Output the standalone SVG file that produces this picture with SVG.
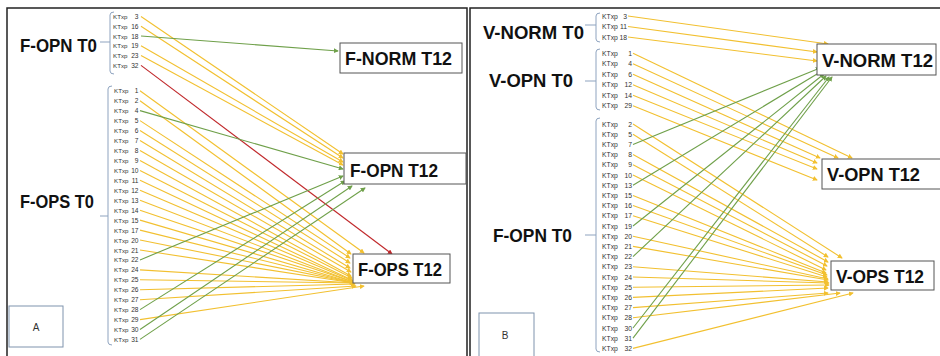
<svg xmlns="http://www.w3.org/2000/svg" width="940" height="356" viewBox="0 0 940 356">
<defs>
<style>
.big{font-family:"Liberation Sans",Arial,sans-serif;font-weight:bold;font-size:19px;fill:#111}
.kt{font-family:"Liberation Sans",Arial,sans-serif;font-size:6.8px;fill:#333}
.kn{font-family:"Liberation Sans",Arial,sans-serif;font-size:6.8px;fill:#333;text-anchor:end}
.ka{font-family:"Liberation Sans",Arial,sans-serif;font-size:6.2px;fill:#333}
.kan{font-family:"Liberation Sans",Arial,sans-serif;font-size:6.6px;fill:#333;text-anchor:end}
.br{fill:none;stroke:#8ea3bf;stroke-width:1}
.box{fill:#fff;stroke:#555;stroke-width:1}
.panel{fill:none;stroke:#222;stroke-width:1.5}
.y{stroke:#f2c030;stroke-width:1.1;fill:none;marker-end:url(#ay)}
.g{stroke:#6fa04a;stroke-width:1.1;fill:none;marker-end:url(#ag)}
.r{stroke:#c0282b;stroke-width:1.1;fill:none;marker-end:url(#ar)}
</style>
<marker id="ay" viewBox="0 0 6 6" refX="5" refY="3" markerWidth="5" markerHeight="5" markerUnits="userSpaceOnUse" orient="auto"><path d="M0,0 L6,3 L0,6 z" fill="#f2c030"/></marker>
<marker id="ag" viewBox="0 0 6 6" refX="5" refY="3" markerWidth="5" markerHeight="5" markerUnits="userSpaceOnUse" orient="auto"><path d="M0,0 L6,3 L0,6 z" fill="#6fa04a"/></marker>
<marker id="ar" viewBox="0 0 6 6" refX="5" refY="3" markerWidth="5" markerHeight="5" markerUnits="userSpaceOnUse" orient="auto"><path d="M0,0 L6,3 L0,6 z" fill="#c0282b"/></marker>
</defs>
<rect width="940" height="356" fill="#fff"/>
<!-- panels -->
<path class="panel" d="M7,358 V8 H467 V358"/>
<path class="panel" d="M470,358 V8 H942"/>

<!-- connectors -->
<g id="connectors">
<!-- Panel A: F-OPN T0 -->
<line class="y" x1="141" y1="16.5" x2="343" y2="154"/>
<line class="y" x1="141" y1="26.3" x2="343" y2="158"/>
<line class="g" x1="141" y1="36" x2="338" y2="51"/>
<line class="y" x1="141" y1="45.8" x2="343" y2="162"/>
<line class="y" x1="141" y1="55.6" x2="343" y2="165"/>
<line class="r" x1="141" y1="65.4" x2="392" y2="254"/>
<!-- Panel A: F-OPS T0 -->
<line class="y" x1="140" y1="90.7" x2="364" y2="253"/>
<line class="y" x1="140" y1="100.7" x2="351" y2="254"/>
<line class="g" x1="140" y1="110.6" x2="343" y2="169"/>
<line class="y" x1="140" y1="120.6" x2="350" y2="258"/>
<line class="y" x1="140" y1="130.5" x2="350" y2="263"/>
<line class="y" x1="140" y1="140.5" x2="350" y2="268"/>
<line class="y" x1="140" y1="150.5" x2="351" y2="272"/>
<line class="y" x1="140" y1="160.4" x2="351" y2="276"/>
<line class="y" x1="140" y1="170.4" x2="352" y2="278"/>
<line class="y" x1="140" y1="180.3" x2="352" y2="280"/>
<line class="y" x1="140" y1="190.3" x2="353" y2="281"/>
<line class="y" x1="140" y1="200.2" x2="353" y2="282"/>
<line class="y" x1="140" y1="210.2" x2="353" y2="282"/>
<line class="y" x1="140" y1="220.1" x2="354" y2="283"/>
<line class="y" x1="140" y1="230.1" x2="354" y2="283"/>
<line class="y" x1="140" y1="240" x2="354" y2="283"/>
<line class="y" x1="140" y1="250" x2="354" y2="283"/>
<line class="g" x1="140" y1="259.9" x2="343" y2="176"/>
<line class="y" x1="140" y1="269.9" x2="354" y2="283"/>
<line class="y" x1="140" y1="279.8" x2="355" y2="283"/>
<line class="y" x1="140" y1="289.8" x2="355" y2="284"/>
<line class="y" x1="140" y1="299.7" x2="356" y2="286"/>
<line class="g" x1="140" y1="309.6" x2="345" y2="181"/>
<line class="y" x1="140" y1="319.6" x2="364" y2="286"/>
<line class="g" x1="140" y1="329.5" x2="352" y2="186"/>
<line class="g" x1="140" y1="339.4" x2="365" y2="188"/>
<!-- Panel B: V-NORM T0 -->
<line class="y" x1="628" y1="16" x2="828" y2="44"/>
<line class="y" x1="628" y1="26.5" x2="817" y2="52"/>
<line class="y" x1="628" y1="37" x2="817" y2="61"/>
<!-- Panel B: V-OPN T0 -->
<line class="y" x1="633" y1="53.3" x2="852" y2="158"/>
<line class="y" x1="633" y1="63.8" x2="838" y2="158"/>
<line class="y" x1="633" y1="74.3" x2="820" y2="158"/>
<line class="y" x1="633" y1="84.8" x2="817" y2="163"/>
<line class="y" x1="633" y1="95.3" x2="817" y2="169"/>
<line class="y" x1="633" y1="105.8" x2="817" y2="180"/>
<!-- Panel B: F-OPN T0 -->
<line class="y" x1="633" y1="124" x2="842" y2="258"/>
<line class="y" x1="633" y1="134.2" x2="828" y2="257"/>
<line class="g" x1="633" y1="144.4" x2="820" y2="68"/>
<line class="y" x1="633" y1="154.6" x2="828" y2="262"/>
<line class="y" x1="633" y1="164.8" x2="827" y2="266"/>
<line class="y" x1="633" y1="175" x2="826" y2="270"/>
<line class="g" x1="633" y1="185.2" x2="822" y2="71"/>
<line class="y" x1="633" y1="195.4" x2="826" y2="273"/>
<line class="y" x1="633" y1="205.6" x2="827" y2="275"/>
<line class="y" x1="633" y1="215.8" x2="827" y2="277"/>
<line class="g" x1="633" y1="226" x2="824" y2="74"/>
<line class="y" x1="633" y1="236.2" x2="828" y2="279"/>
<line class="y" x1="633" y1="246.4" x2="828" y2="280"/>
<line class="g" x1="633" y1="256.6" x2="826" y2="76"/>
<line class="y" x1="633" y1="266.8" x2="828" y2="282"/>
<line class="y" x1="633" y1="277" x2="829" y2="283"/>
<line class="y" x1="633" y1="287.2" x2="829" y2="285"/>
<line class="y" x1="633" y1="297.4" x2="828" y2="288"/>
<line class="y" x1="633" y1="307.6" x2="828" y2="293"/>
<line class="y" x1="633" y1="317.8" x2="840" y2="293"/>
<line class="g" x1="633" y1="328" x2="829" y2="77"/>
<line class="g" x1="633" y1="338.2" x2="832" y2="77"/>
<line class="y" x1="633" y1="348.4" x2="853" y2="293"/>
</g>

<!-- Panel A source nodes -->
<g id="a-fopn-t0">
<text class="big" x="20" y="52" textLength="77" lengthAdjust="spacingAndGlyphs">F-OPN T0</text>
<path class="br" d="M100,42 H110 M114,12 Q110,12 110,15 V71 Q110,74 114,74"/>
<g class="ka"><text x="113" y="19">KTxp</text><text x="113" y="28.8">KTxp</text><text x="113" y="38.5">KTxp</text><text x="113" y="48.3">KTxp</text><text x="113" y="58.1">KTxp</text><text x="113" y="67.9">KTxp</text></g>
<g class="kan"><text x="138.5" y="19">3</text><text x="138.5" y="28.8">16</text><text x="138.5" y="38.5">18</text><text x="138.5" y="48.3">19</text><text x="138.5" y="58.1">23</text><text x="138.5" y="67.9">32</text></g>
</g>
<g id="a-fops-t0">
<text class="big" x="20" y="208" textLength="74" lengthAdjust="spacingAndGlyphs">F-OPS T0</text>
<path class="br" d="M100,216 H108 M112,86 Q108,86 108,89 V342 Q108,345 112,345"/>
<g class="ka">
<text x="114" y="93.2">KTxp</text><text x="114" y="103.2">KTxp</text><text x="114" y="113.1">KTxp</text><text x="114" y="123.1">KTxp</text><text x="114" y="133">KTxp</text><text x="114" y="143">KTxp</text><text x="114" y="153">KTxp</text><text x="114" y="162.9">KTxp</text><text x="114" y="172.9">KTxp</text><text x="114" y="182.8">KTxp</text><text x="114" y="192.8">KTxp</text><text x="114" y="202.7">KTxp</text><text x="114" y="212.7">KTxp</text><text x="114" y="222.6">KTxp</text><text x="114" y="232.6">KTxp</text><text x="114" y="242.5">KTxp</text><text x="114" y="252.5">KTxp</text><text x="114" y="262.4">KTxp</text><text x="114" y="272.4">KTxp</text><text x="114" y="282.3">KTxp</text><text x="114" y="292.3">KTxp</text><text x="114" y="302.2">KTxp</text><text x="114" y="312.1">KTxp</text><text x="114" y="322.1">KTxp</text><text x="114" y="332">KTxp</text><text x="114" y="341.9">KTxp</text>
</g>
<g class="kan">
<text x="138.5" y="93.2">1</text><text x="138.5" y="103.2">2</text><text x="138.5" y="113.1">4</text><text x="138.5" y="123.1">5</text><text x="138.5" y="133">6</text><text x="138.5" y="143">7</text><text x="138.5" y="153">8</text><text x="138.5" y="162.9">9</text><text x="138.5" y="172.9">10</text><text x="138.5" y="182.8">11</text><text x="138.5" y="192.8">12</text><text x="138.5" y="202.7">13</text><text x="138.5" y="212.7">14</text><text x="138.5" y="222.6">15</text><text x="138.5" y="232.6">17</text><text x="138.5" y="242.5">20</text><text x="138.5" y="252.5">21</text><text x="138.5" y="262.4">22</text><text x="138.5" y="272.4">24</text><text x="138.5" y="282.3">25</text><text x="138.5" y="292.3">26</text><text x="138.5" y="302.2">27</text><text x="138.5" y="312.1">28</text><text x="138.5" y="322.1">29</text><text x="138.5" y="332">30</text><text x="138.5" y="341.9">31</text>
</g>
</g>

<!-- Panel A targets -->
<g id="a-fnorm-t12"><rect class="box" x="340" y="43" width="122" height="30"/><text class="big" x="345" y="65" textLength="107" lengthAdjust="spacingAndGlyphs">F-NORM T12</text></g>
<g id="a-fopn-t12"><rect class="box" x="344" y="153" width="122" height="31"/><text class="big" x="350" y="177" textLength="88" lengthAdjust="spacingAndGlyphs">F-OPN T12</text></g>
<g id="a-fops-t12"><rect class="box" x="353" y="254" width="97" height="29"/><text class="big" x="358" y="276" textLength="84" lengthAdjust="spacingAndGlyphs">F-OPS T12</text></g>
<g id="label-a"><rect x="9" y="306" width="54" height="41" fill="#fff" stroke="#7f93ad" stroke-width="1"/><text x="36" y="331" text-anchor="middle" style="font-family:'Liberation Sans',Arial,sans-serif;font-size:10px;fill:#333">A</text></g>

<!-- Panel B source nodes -->
<g id="b-vnorm-t0">
<text class="big" x="483" y="39" textLength="101" lengthAdjust="spacingAndGlyphs">V-NORM T0</text>
<path class="br" d="M585,25 H596 M600,13 Q596,13 596,16 V39 Q596,42 600,42"/>
<g class="kt"><text x="602" y="18.5">KTxp</text><text x="602" y="29">KTxp</text><text x="602" y="39.5">KTxp</text></g>
<g class="kn"><text x="627" y="18.5">3</text><text x="627" y="29">11</text><text x="627" y="39.5">18</text></g>
</g>
<g id="b-vopn-t0">
<text class="big" x="489" y="87" textLength="84" lengthAdjust="spacingAndGlyphs">V-OPN T0</text>
<path class="br" d="M585,81 H596 M600,49 Q596,49 596,52 V107 Q596,110 600,110"/>
<g class="kt"><text x="602" y="55.8">KTxp</text><text x="602" y="66.3">KTxp</text><text x="602" y="76.8">KTxp</text><text x="602" y="87.3">KTxp</text><text x="602" y="97.8">KTxp</text><text x="602" y="108.3">KTxp</text></g>
<g class="kn"><text x="632" y="55.8">1</text><text x="632" y="66.3">4</text><text x="632" y="76.8">6</text><text x="632" y="87.3">12</text><text x="632" y="97.8">14</text><text x="632" y="108.3">29</text></g>
</g>
<g id="b-fopn-t0">
<text class="big" x="493" y="242" textLength="79" lengthAdjust="spacingAndGlyphs">F-OPN T0</text>
<path class="br" d="M585,235 H596 M600,118 Q596,118 596,121 V349 Q596,352 600,352"/>
<g class="kt">
<text x="602" y="126.5">KTxp</text><text x="602" y="136.7">KTxp</text><text x="602" y="146.9">KTxp</text><text x="602" y="157.1">KTxp</text><text x="602" y="167.3">KTxp</text><text x="602" y="177.5">KTxp</text><text x="602" y="187.7">KTxp</text><text x="602" y="197.9">KTxp</text><text x="602" y="208.1">KTxp</text><text x="602" y="218.3">KTxp</text><text x="602" y="228.5">KTxp</text><text x="602" y="238.7">KTxp</text><text x="602" y="248.9">KTxp</text><text x="602" y="259.1">KTxp</text><text x="602" y="269.3">KTxp</text><text x="602" y="279.5">KTxp</text><text x="602" y="289.7">KTxp</text><text x="602" y="299.9">KTxp</text><text x="602" y="310.1">KTxp</text><text x="602" y="320.3">KTxp</text><text x="602" y="330.5">KTxp</text><text x="602" y="340.7">KTxp</text><text x="602" y="350.9">KTxp</text>
</g>
<g class="kn">
<text x="632" y="126.5">2</text><text x="632" y="136.7">5</text><text x="632" y="146.9">7</text><text x="632" y="157.1">8</text><text x="632" y="167.3">9</text><text x="632" y="177.5">10</text><text x="632" y="187.7">13</text><text x="632" y="197.9">15</text><text x="632" y="208.1">16</text><text x="632" y="218.3">17</text><text x="632" y="228.5">19</text><text x="632" y="238.7">20</text><text x="632" y="248.9">21</text><text x="632" y="259.1">22</text><text x="632" y="269.3">23</text><text x="632" y="279.5">24</text><text x="632" y="289.7">25</text><text x="632" y="299.9">26</text><text x="632" y="310.1">27</text><text x="632" y="320.3">28</text><text x="632" y="330.5">30</text><text x="632" y="340.7">31</text><text x="632" y="350.9">32</text>
</g>
</g>

<!-- Panel B targets -->
<g id="b-vnorm-t12"><rect class="box" x="817" y="44" width="119" height="31"/><text class="big" x="822" y="67" textLength="111" lengthAdjust="spacingAndGlyphs">V-NORM T12</text></g>
<g id="b-vopn-t12"><rect class="box" x="822" y="159" width="120" height="30"/><text class="big" x="827" y="181" textLength="93" lengthAdjust="spacingAndGlyphs">V-OPN T12</text></g>
<g id="b-vops-t12"><rect class="box" x="831" y="261" width="103" height="29"/><text class="big" x="836" y="283" textLength="88" lengthAdjust="spacingAndGlyphs">V-OPS T12</text></g>
<g id="label-b"><rect x="479" y="313" width="55" height="45" fill="#fff" stroke="#7f93ad" stroke-width="1"/><text x="505" y="339" text-anchor="middle" style="font-family:'Liberation Sans',Arial,sans-serif;font-size:10px;fill:#333">B</text></g>
</svg>
